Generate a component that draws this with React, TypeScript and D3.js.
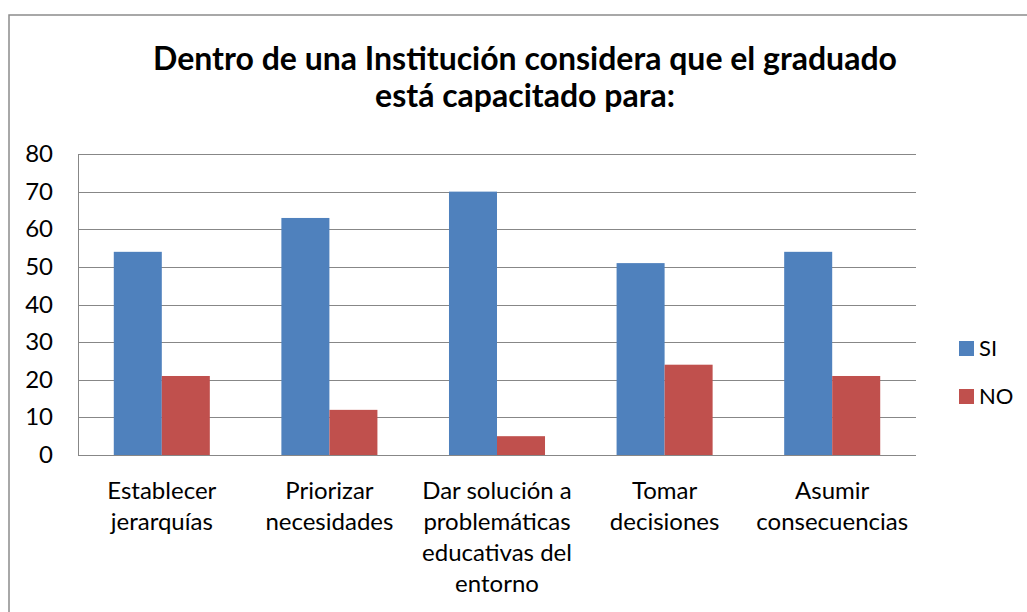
import React from "react";
import * as d3 from "d3";

// datos
const categories: string[][] = [
  ["Establecer", "jerarquías"],
  ["Priorizar", "necesidades"],
  ["Dar solución a", "problemáticas", "educativas del", "entorno"],
  ["Tomar", "decisiones"],
  ["Asumir", "consecuencias"],
];
const seriesNames = ["SI", "NO"];
const siValues = [54, 63, 70, 51, 54];
const noValues = [21, 12, 5, 24, 21];
const yTicks = [0, 10, 20, 30, 40, 50, 60, 70, 80];
const titleLines = [
  "Dentro de una Institución considera que el graduado",
  "está capacitado para:",
];

const colors = ["#4F81BD", "#C0504D"];
const font = "Lato, 'Open Sans', sans-serif";

const W = 1027;
const H = 612;
const plot = { left: 78, right: 916, top: 154, bottom: 455 };

const App = () => {
  const keys = categories.map((c) => c.join(" "));
  const x = d3
    .scaleBand<string>()
    .domain(keys)
    .range([plot.left, plot.right])
    .paddingInner(0.427)
    .paddingOuter(0.2135);
  const xs = d3
    .scaleBand<string>()
    .domain(seriesNames)
    .range([0, x.bandwidth()]);
  const y = d3.scaleLinear().domain([0, 80]).range([plot.bottom, plot.top]);
  const values = [siValues, noValues];

  return (
    <svg
      width={W}
      height={H}
      style={{ position: "absolute", left: 0, top: 0, background: "#fff" }}
      fontFamily={font}
    >
      <rect x={9} y={15} width={1040} height={640} fill="#fff" stroke="#8c8c8c" strokeWidth={1.5} />

      {titleLines.map((t, i) => (
        <text
          key={t}
          x={525}
          y={70 + i * 37}
          textAnchor="middle"
          fontSize={32}
          fontWeight="bold"
          fill="#000"
        >
          {t}
        </text>
      ))}

      {yTicks.map((t) => (
        <g key={t}>
          <line
            x1={plot.left}
            x2={plot.right}
            y1={Math.round(y(t)) + 0.5}
            y2={Math.round(y(t)) + 0.5}
            stroke="#878787"
            strokeWidth={1}
          />
          <text x={53} y={y(t) + 8} textAnchor="end" fontSize={24} fill="#000">
            {t}
          </text>
        </g>
      ))}
      <line
        x1={plot.left + 0.5}
        x2={plot.left + 0.5}
        y1={plot.top}
        y2={plot.bottom}
        stroke="#878787"
      />

      {keys.map((k, ci) =>
        seriesNames.map((s, si) => (
          <rect
            key={k + s}
            x={(x(k) ?? 0) + (xs(s) ?? 0)}
            y={y(values[si][ci])}
            width={xs.bandwidth()}
            height={y(0) - y(values[si][ci])}
            fill={colors[si]}
          />
        ))
      )}

      {categories.map((lines, ci) => (
        <text
          key={keys[ci]}
          x={(x(keys[ci]) ?? 0) + x.bandwidth() / 2}
          textAnchor="middle"
          fontSize={24}
          fill="#000"
        >
          {lines.map((l, li) => (
            <tspan key={l} x={(x(keys[ci]) ?? 0) + x.bandwidth() / 2} y={499 + li * 31}>
              {l}
            </tspan>
          ))}
        </text>
      ))}

      {seriesNames.map((s, i) => (
        <g key={s}>
          <rect x={959} y={341 + i * 48} width={15} height={15} fill={colors[i]} />
          <text x={979} y={356 + i * 48} fontSize={22} fill="#000">
            {s}
          </text>
        </g>
      ))}
    </svg>
  );
};

export default App;
